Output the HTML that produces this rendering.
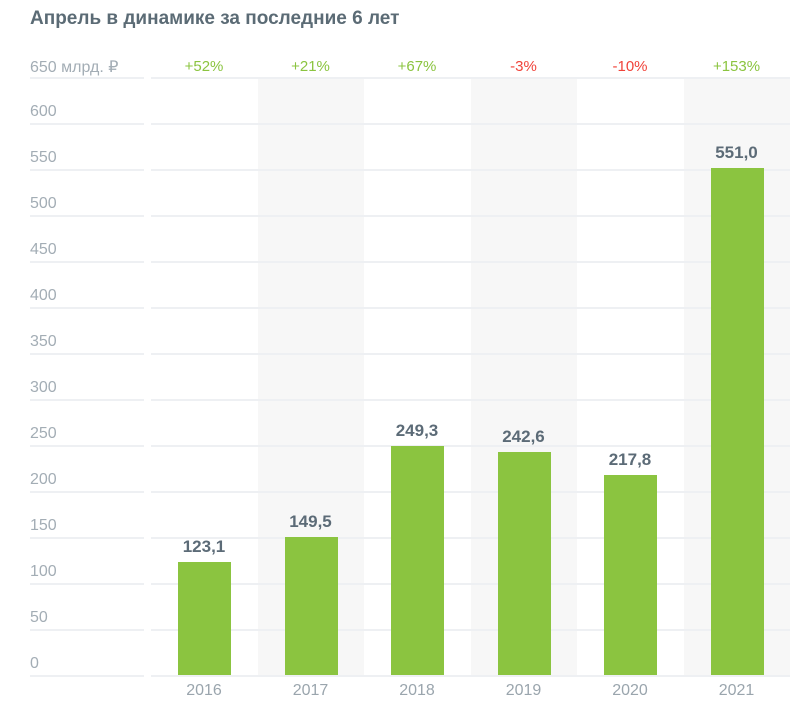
<!DOCTYPE html><html><head><meta charset="utf-8"><style>
body{margin:0;background:#fff;font-family:"Liberation Sans",sans-serif}
#c{position:relative;width:800px;height:717px;overflow:hidden}
.a{position:absolute}
.g{position:absolute;height:2px;background:#eef0f3}
.yl{position:absolute;left:30px;font-size:16px;color:#a3adb5}
.sh{position:absolute;top:78px;height:597px;width:106px;background:#f7f7f7}
.bar{position:absolute;width:53px;background:#8bc440}
.v{position:absolute;width:106px;text-align:center;font-size:17px;font-weight:bold;color:#5c6b77}
.p{position:absolute;top:58px;width:106px;text-align:center;font-size:15px}
.x{position:absolute;top:682px;width:106px;text-align:center;font-size:16px;color:#9aa5ad}
</style></head><body><div id="c">
<div class="a" style="left:30px;top:8px;font-size:19px;font-weight:bold;color:#5b6b75">Апрель в динамике за последние 6 лет</div>
<div class="sh" style="left:258px"></div><div class="sh" style="left:471px"></div><div class="sh" style="left:684px"></div>
<div id="grid"></div>
<script>
(function(){
var h='';
for(var i=0;i<=13;i++){var y=77+i*46;var v=650-i*50;
h+='<div class="g" style="left:30px;width:114px;top:'+y+'px"></div><div class="g" style="left:151px;width:639px;top:'+y+'px"></div>';
h+='<div class="yl" style="top:'+(y-20)+'px">'+(i==0?'650 млрд. ₽':v)+'</div>';}
var d=[[2016,123.1,'+52%',1],[2017,149.5,'+21%',1],[2018,249.3,'+67%',1],[2019,242.6,'-3%',0],[2020,217.8,'-10%',0],[2021,551.0,'+153%',1]];
for(var j=0;j<6;j++){var L=151+j*106.5;var hh=d[j][1]*46/50;var tp=675-hh;
h+='<div class="bar" style="left:'+(L+27)+'px;top:'+tp+'px;height:'+hh+'px"></div>';
h+='<div class="v" style="left:'+L+'px;top:'+(tp-25)+'px">'+d[j][1].toFixed(1).replace('.',',')+'</div>';
h+='<div class="p" style="left:'+L+'px;color:'+(d[j][3]?'#8bc440':'#f0433a')+'">'+d[j][2]+'</div>';
h+='<div class="x" style="left:'+L+'px">'+d[j][0]+'</div>';}
document.getElementById('grid').innerHTML=h;
})();
</script>
</div></body></html>
